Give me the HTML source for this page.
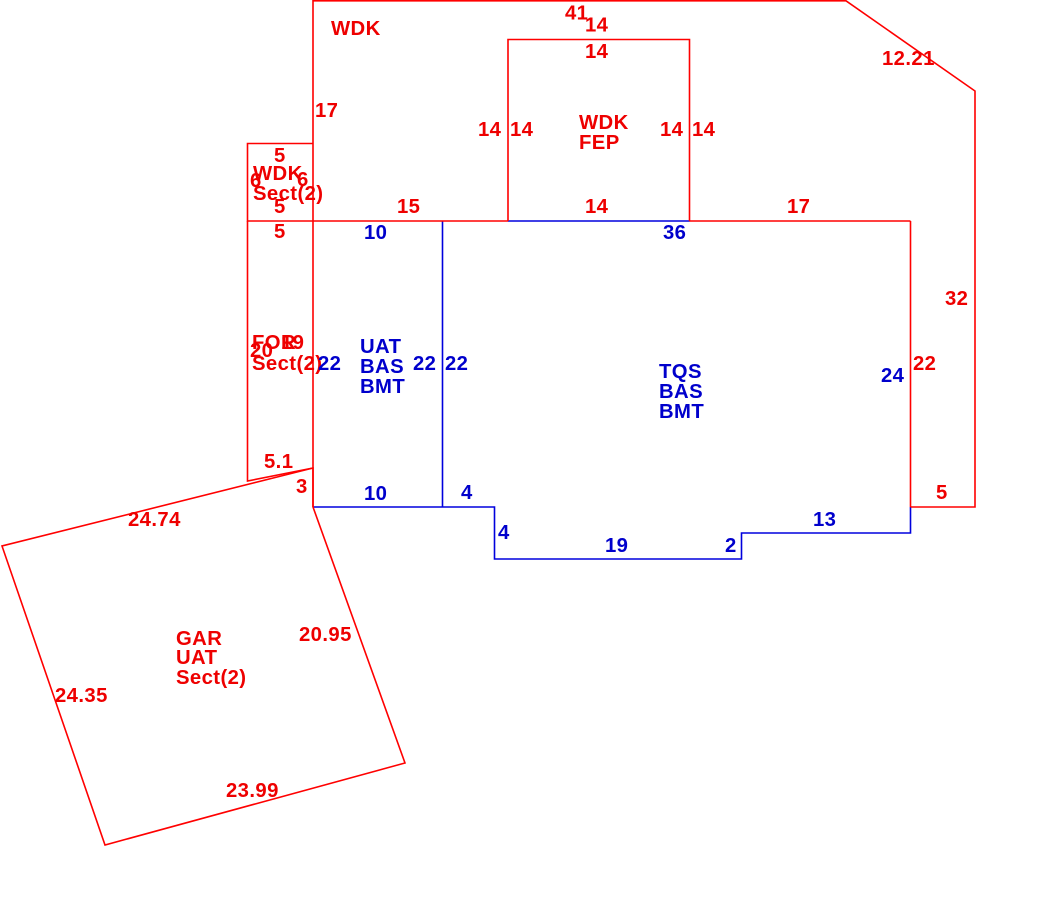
<!DOCTYPE html>
<html>
<head>
<meta charset="utf-8">
<style>
html,body{margin:0;padding:0;background:#fff;}
svg{display:block;}
text{font-family:"Liberation Sans",Arial,sans-serif;font-weight:bold;font-size:20.3px;letter-spacing:0.4px;}
.r{fill:#ee0000;}
.b{fill:#0000cc;}
</style>
</head>
<body>
<svg width="1050" height="918" viewBox="0 0 1050 918" xmlns="http://www.w3.org/2000/svg">
<g fill="none" stroke-width="1.6" stroke-linejoin="miter">
  <g stroke="#0000dd">
    <line x1="442.5" y1="221" x2="442.5" y2="507"/>
    <polyline points="313,507 494.5,507 494.5,559 741.5,559 741.5,533 910.5,533 910.5,507"/>
    <line x1="508" y1="221" x2="689.5" y2="221"/>
  </g>
  <g stroke="#ff0000">
    <polyline points="313,221 313,0.8 846,0.8 975,91 975,507 910.5,507"/>
    <line x1="313" y1="221" x2="508" y2="221"/>
    <line x1="689.5" y1="221" x2="910.5" y2="221"/>
    <polyline points="508,221 508,39.5 689.5,39.5 689.5,221"/>
    <line x1="910.5" y1="221" x2="910.5" y2="507"/>
    <polyline points="313,143.5 247.5,143.5 247.5,221 313,221"/>
    <polyline points="247.5,221 247.5,481 313,468"/>
    <line x1="313" y1="221" x2="313" y2="507"/>
    <polygon points="313,468 2,546 105,845 405,763 313,507"/>
  </g>
</g>

<g class="r">
  <text x="331" y="35">WDK</text>
  <text x="565" y="19.5">41</text>
  <text x="585" y="31.5">14</text>
  <text x="585" y="58">14</text>
  <text x="315" y="117">17</text>
  <text x="478" y="136">14</text>
  <text x="510" y="136">14</text>
  <text x="579" y="129">WDK</text>
  <text x="579" y="149">FEP</text>
  <text x="660" y="136">14</text>
  <text x="692" y="136">14</text>
  <text x="397" y="213">15</text>
  <text x="585" y="213">14</text>
  <text x="787" y="213">17</text>
  <text x="882" y="65">12.21</text>
  <text x="274" y="162">5</text>
  <text x="253" y="180">WDK</text>
  <text x="250" y="187">6</text>
  <text x="297" y="186">6</text>
  <text x="253" y="200">Sect(2)</text>
  <text x="274" y="213">5</text>
  <text x="274" y="238">5</text>
  <text x="252" y="349">FOR</text>
  <text x="250" y="357">20</text>
  <text x="281" y="349">19</text>
  <text x="252" y="370">Sect(2)</text>
  <text x="264" y="468">5.1</text>
  <text x="296" y="493">3</text>
  <text x="945" y="305">32</text>
  <text x="913" y="370">22</text>
  <text x="936" y="499">5</text>
  <text x="128" y="526">24.74</text>
  <text x="176" y="645">GAR</text>
  <text x="176" y="664">UAT</text>
  <text x="176" y="684">Sect(2)</text>
  <text x="299" y="641">20.95</text>
  <text x="55" y="702">24.35</text>
  <text x="226" y="797">23.99</text>
</g>

<g class="b">
  <text x="364" y="239">10</text>
  <text x="663" y="239">36</text>
  <text x="318" y="370">22</text>
  <text x="360" y="353">UAT</text>
  <text x="360" y="373">BAS</text>
  <text x="360" y="393">BMT</text>
  <text x="413" y="370">22</text>
  <text x="445" y="370">22</text>
  <text x="364" y="500">10</text>
  <text x="461" y="499">4</text>
  <text x="659" y="378">TQS</text>
  <text x="659" y="398">BAS</text>
  <text x="659" y="418">BMT</text>
  <text x="881" y="382">24</text>
  <text x="498" y="539">4</text>
  <text x="605" y="552">19</text>
  <text x="725" y="552">2</text>
  <text x="813" y="526">13</text>
</g>
</svg>
</body>
</html>
